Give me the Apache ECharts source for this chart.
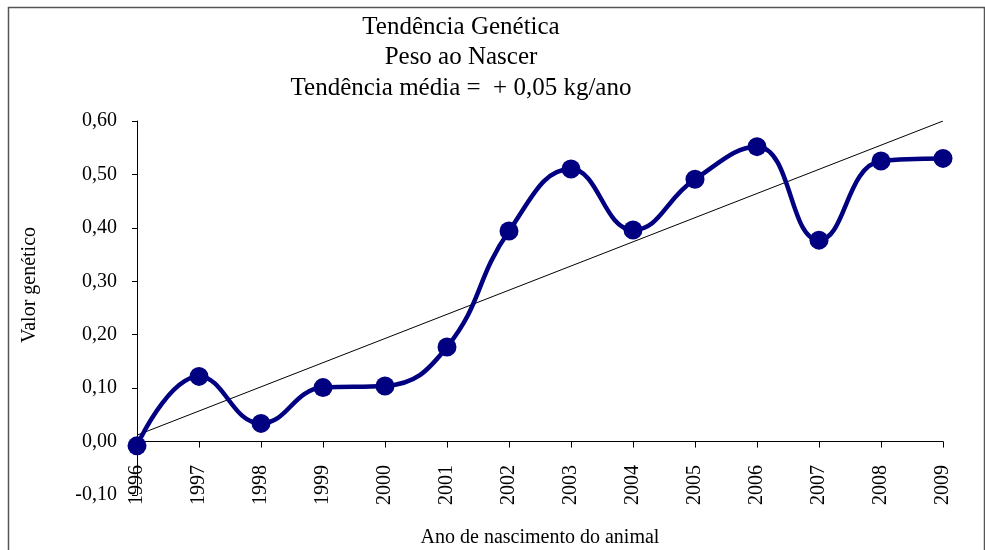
<!DOCTYPE html>
<html>
<head>
<meta charset="utf-8">
<script src="https://cdn.jsdelivr.net/npm/echarts@6/dist/echarts.min.js"></script>
<style>
  html, body { margin: 0; padding: 0; background: #fff; }
  #chart { width: 985px; height: 550px; }
</style>
</head>
<body>
<div id="chart"></div>
<script>
// anos de nascimento e valores genéticos
var anos = ['1996', '1997', '1998', '1999', '2000', '2001', '2002',
            '2003', '2004', '2005', '2006', '2007', '2008', '2009'];
var valorGenetico = [-0.008, 0.122, 0.034, 0.101, 0.104, 0.177, 0.394,
                     0.510, 0.396, 0.491, 0.552, 0.377, 0.525, 0.530];
// linha de tendência: extremos em 1996 e 2009
var tendencia = [['1996', 0.012], ['2009', 0.600]];
var tituloLinhas = ['Tendência Genética', 'Peso ao Nascer', 'Tendência média =  + 0,05 kg/ano'];

var serif = '"Liberation Serif", "Times New Roman", serif';

var chart = echarts.init(document.getElementById('chart'));
chart.setOption({
    animation: false,
    textStyle: { fontFamily: serif, color: '#000' },
    title: {
        text: tituloLinhas.join('\n'),
        left: 456,
        top: 7,
        textAlign: 'center',
        textStyle: { fontFamily: serif, fontWeight: 'normal', fontSize: 25, lineHeight: 30.5, color: '#000' }
    },
    graphic: [
        {
            type: 'rect',
            shape: { x: 8.5, y: 7.5, width: 976, height: 600 },
            style: { fill: null, stroke: '#555', lineWidth: 1.5 },
            silent: true
        },
        {
            type: 'text',
            x: 30, y: 285,
            rotation: Math.PI / 2,
            style: {
                text: 'Valor genético', font: '20px ' + serif, fill: '#000',
                align: 'center', verticalAlign: 'middle'
            }
        }
    ],
    grid: { left: 137, right: 42, top: 121, bottom: 55, containLabel: false, outerBoundsMode: 'none' },
    xAxis: {
        type: 'category',
        data: anos,
        boundaryGap: false,
        name: 'Ano de nascimento do animal',
        nameLocation: 'middle',
        nameGap: 33,
        nameTextStyle: { fontFamily: serif, fontSize: 20, color: '#000' },
        axisLine: { onZero: true, lineStyle: { color: '#000', width: 1 } },
        axisTick: { show: true, length: 6, alignWithLabel: true, lineStyle: { color: '#000' } },
        axisLabel: { rotate: 90, margin: -30, fontSize: 20, fontFamily: serif, color: '#000', interval: 0 },
        splitLine: { show: false }
    },
    yAxis: {
        type: 'value',
        min: -0.1,
        max: 0.6,
        interval: 0.1,
        axisLine: { show: true, lineStyle: { color: '#000', width: 1 } },
        axisTick: { show: true, length: 5, lineStyle: { color: '#000' } },
        axisLabel: {
            fontSize: 20, fontFamily: serif, color: '#000', margin: 20,
            formatter: function (v) { return v.toFixed(2).replace('.', ','); }
        },
        splitLine: { show: false }
    },
    series: [
        {
            type: 'line',
            data: valorGenetico,
            smooth: 0.45,
            symbol: 'circle',
            symbolSize: 19,
            lineStyle: { color: '#000080', width: 4.5 },
            itemStyle: { color: '#000080' },
            z: 3
        },
        {
            type: 'line',
            data: tendencia,
            symbol: 'none',
            lineStyle: { color: '#000', width: 1 },
            z: 2
        }
    ]
});
</script>
</body>
</html>
